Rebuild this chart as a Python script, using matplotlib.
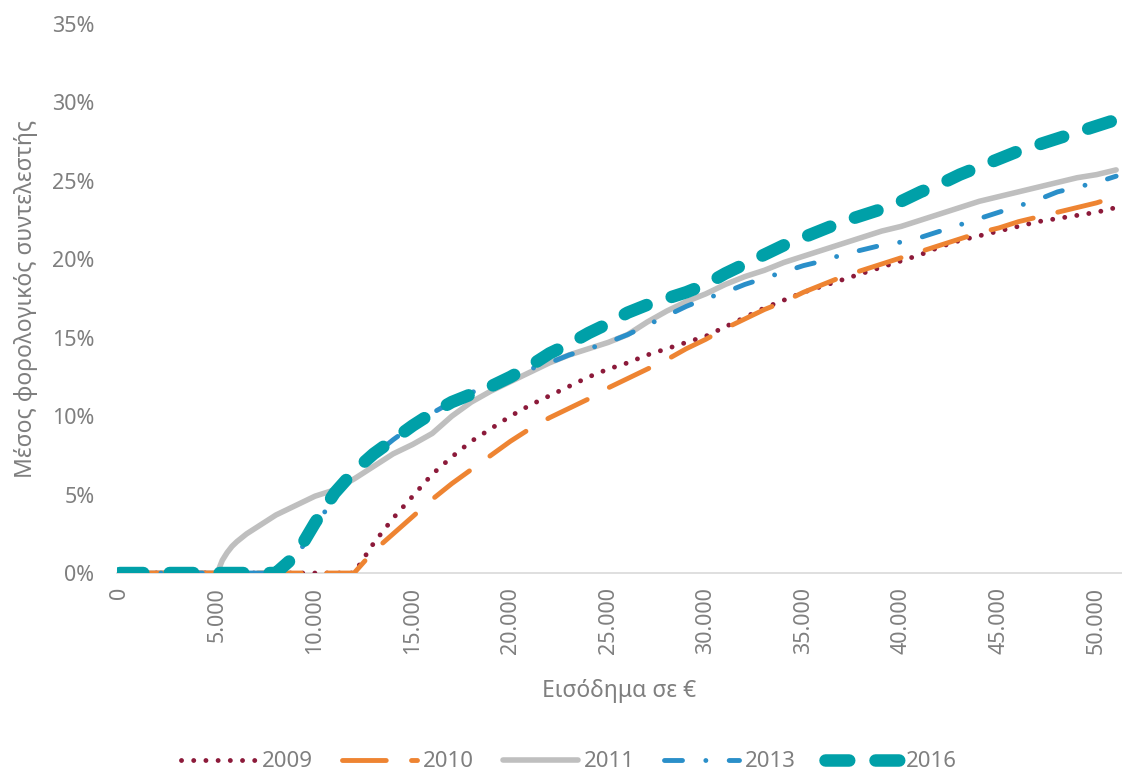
import numpy as np
import matplotlib
matplotlib.use("Agg")
import matplotlib.pyplot as plt
from matplotlib.ticker import FuncFormatter

plt.rcParams['font.family'] = ['Noto Sans', 'DejaVu Sans']

# εισόδημα σε €, ανά 1.000
eisodima = list(range(0, 52000, 1000))

# μέσος φορολογικός συντελεστής (%)
f2009 = [0] * 13 + [1.9, 3.5, 4.9, 6.3, 7.4, 8.4, 9.2, 10.0, 10.7, 11.3, 11.9, 12.5, 13.0,
                    13.4, 13.9, 14.3, 14.7, 15.1, 15.7, 16.3, 16.9, 17.4, 17.9, 18.3, 18.7,
                    19.1, 19.5, 19.9, 20.3, 20.8, 21.2, 21.5, 21.8, 22.1, 22.4, 22.6, 22.8,
                    23.0, 23.3]
f2010 = [0] * 13 + [1.4, 2.5, 3.6, 4.7, 5.7, 6.6, 7.5, 8.4, 9.2, 9.9, 10.5, 11.1, 11.8,
                    12.4, 13.0, 13.6, 14.3, 14.9, 15.6, 16.2, 16.8, 17.3, 17.9, 18.4, 18.9,
                    19.3, 19.7, 20.1, 20.5, 20.9, 21.3, 21.7, 22.0, 22.4, 22.7, 23.0, 23.3,
                    23.6, 24.0]
f2013 = [0] * 9 + [1.0, 2.9, 4.9, 6.5, 7.5, 8.5, 9.4, 10.2, 10.9, 11.5, 12.0, 12.5, 13.0,
                   13.4, 13.9, 14.3, 14.7, 15.2, 15.8, 16.4, 17.0, 17.5, 17.9, 18.4, 18.8,
                   19.2, 19.6, 19.9, 20.3, 20.6, 20.9, 21.1, 21.4, 21.8, 22.2, 22.6, 23.0,
                   23.4, 23.8, 24.3, 24.6, 24.9, 25.3]
f2016 = [0] * 9 + [1.1, 3.2, 5.1, 6.5, 7.6, 8.5, 9.4, 10.2, 10.9, 11.4, 11.9, 12.5, 13.2,
                   14.0, 14.6, 15.3, 15.9, 16.6, 17.1, 17.5, 17.9, 18.4, 19.1, 19.7, 20.3,
                   20.9, 21.4, 21.9, 22.4, 22.8, 23.2, 23.7, 24.3, 24.8, 25.4, 25.9, 26.4,
                   26.9, 27.3, 27.7, 28.1, 28.5, 28.9]

# 2011: πυκνότερα σημεία στην αρχή της καμπύλης
eisodima_2011 = [0, 1000, 2000, 3000, 4000, 5000, 5250, 5500, 5750, 6000, 6500, 7000,
                 7500, 8000, 8500, 9000, 9500] + list(range(10000, 52000, 1000))
f2011 = [0, 0, 0, 0, 0, 0, 0.8, 1.3, 1.7, 2.0, 2.5, 2.9, 3.3, 3.7, 4.0, 4.3, 4.6,
         4.9, 5.3, 6.0, 6.8, 7.6, 8.2, 8.9, 10.0, 10.9, 11.6, 12.2, 12.8, 13.4, 13.9,
         14.3, 14.7, 15.2, 16.0, 16.7, 17.3, 17.8, 18.4, 18.9, 19.3, 19.8, 20.2, 20.6,
         21.0, 21.4, 21.8, 22.1, 22.5, 22.9, 23.3, 23.7, 24.0, 24.3, 24.6, 24.9, 25.2,
         25.4, 25.7]

xticks = list(range(0, 50001, 5000))
yticks = [0, 5, 10, 15, 20, 25, 30, 35]

fig = plt.figure(figsize=(11.22, 7.75), dpi=100)
ax = fig.add_axes([0.104, 0.2606, 0.896, 0.7084])

ax.plot(eisodima, f2009, color="#8C1A3A", lw=3.5, dashes=(0.01, 2.5),
        dash_capstyle="round", label="2009", zorder=3)
ax.plot(eisodima, f2010, color="#EE8432", lw=3.5, dashes=(9.0, 5.2),
        dash_capstyle="round", label="2010", zorder=3)
ax.plot(eisodima_2011, f2011, color="#BFBFBF", lw=4, solid_capstyle="round",
        label="2011", zorder=2)
ax.plot(eisodima, f2013, color="#2A8FC9", lw=3.5, dashes=(3.7, 4.8, 0.01, 4.8),
        dash_capstyle="round", label="2013", zorder=3)
ax.plot(eisodima, f2016, color="#00A0A8", lw=9, dashes=(1.9, 2.1),
        dash_capstyle="round", label="2016", zorder=4)

ax.set_xlim(-150, 51300)
ax.set_ylim(0, 35)
ax.set_xticks(xticks)
ax.set_yticks(yticks)
ax.xaxis.set_major_formatter(FuncFormatter(lambda v, p: f"{int(v):,}".replace(",", ".")))
ax.yaxis.set_major_formatter(FuncFormatter(lambda v, p: f"{int(v)}%"))

for s in ["top", "right", "left"]:
    ax.spines[s].set_visible(False)
ax.spines["bottom"].set_color("#D9D9D9")
ax.spines["bottom"].set_linewidth(1.2)
ax.tick_params(axis="both", length=0, labelsize=15.5, colors="#7F7F7F")
ax.tick_params(axis="x", rotation=90, pad=10)
ax.tick_params(axis="y", pad=16)

ax.set_xlabel("Εισόδημα σε €", fontsize=16.5, color="#7F7F7F", labelpad=18)
ax.set_ylabel("Μέσος φορολογικός συντελεστής", fontsize=16.5, color="#7F7F7F", labelpad=10)

fig.legend(loc="center", bbox_to_anchor=(0.507, 0.017), ncol=5, frameon=False,
           fontsize=16, labelcolor="#7F7F7F", handlelength=3.4, columnspacing=1.3,
           handletextpad=0.25)

fig.savefig("out.png", dpi=100)
